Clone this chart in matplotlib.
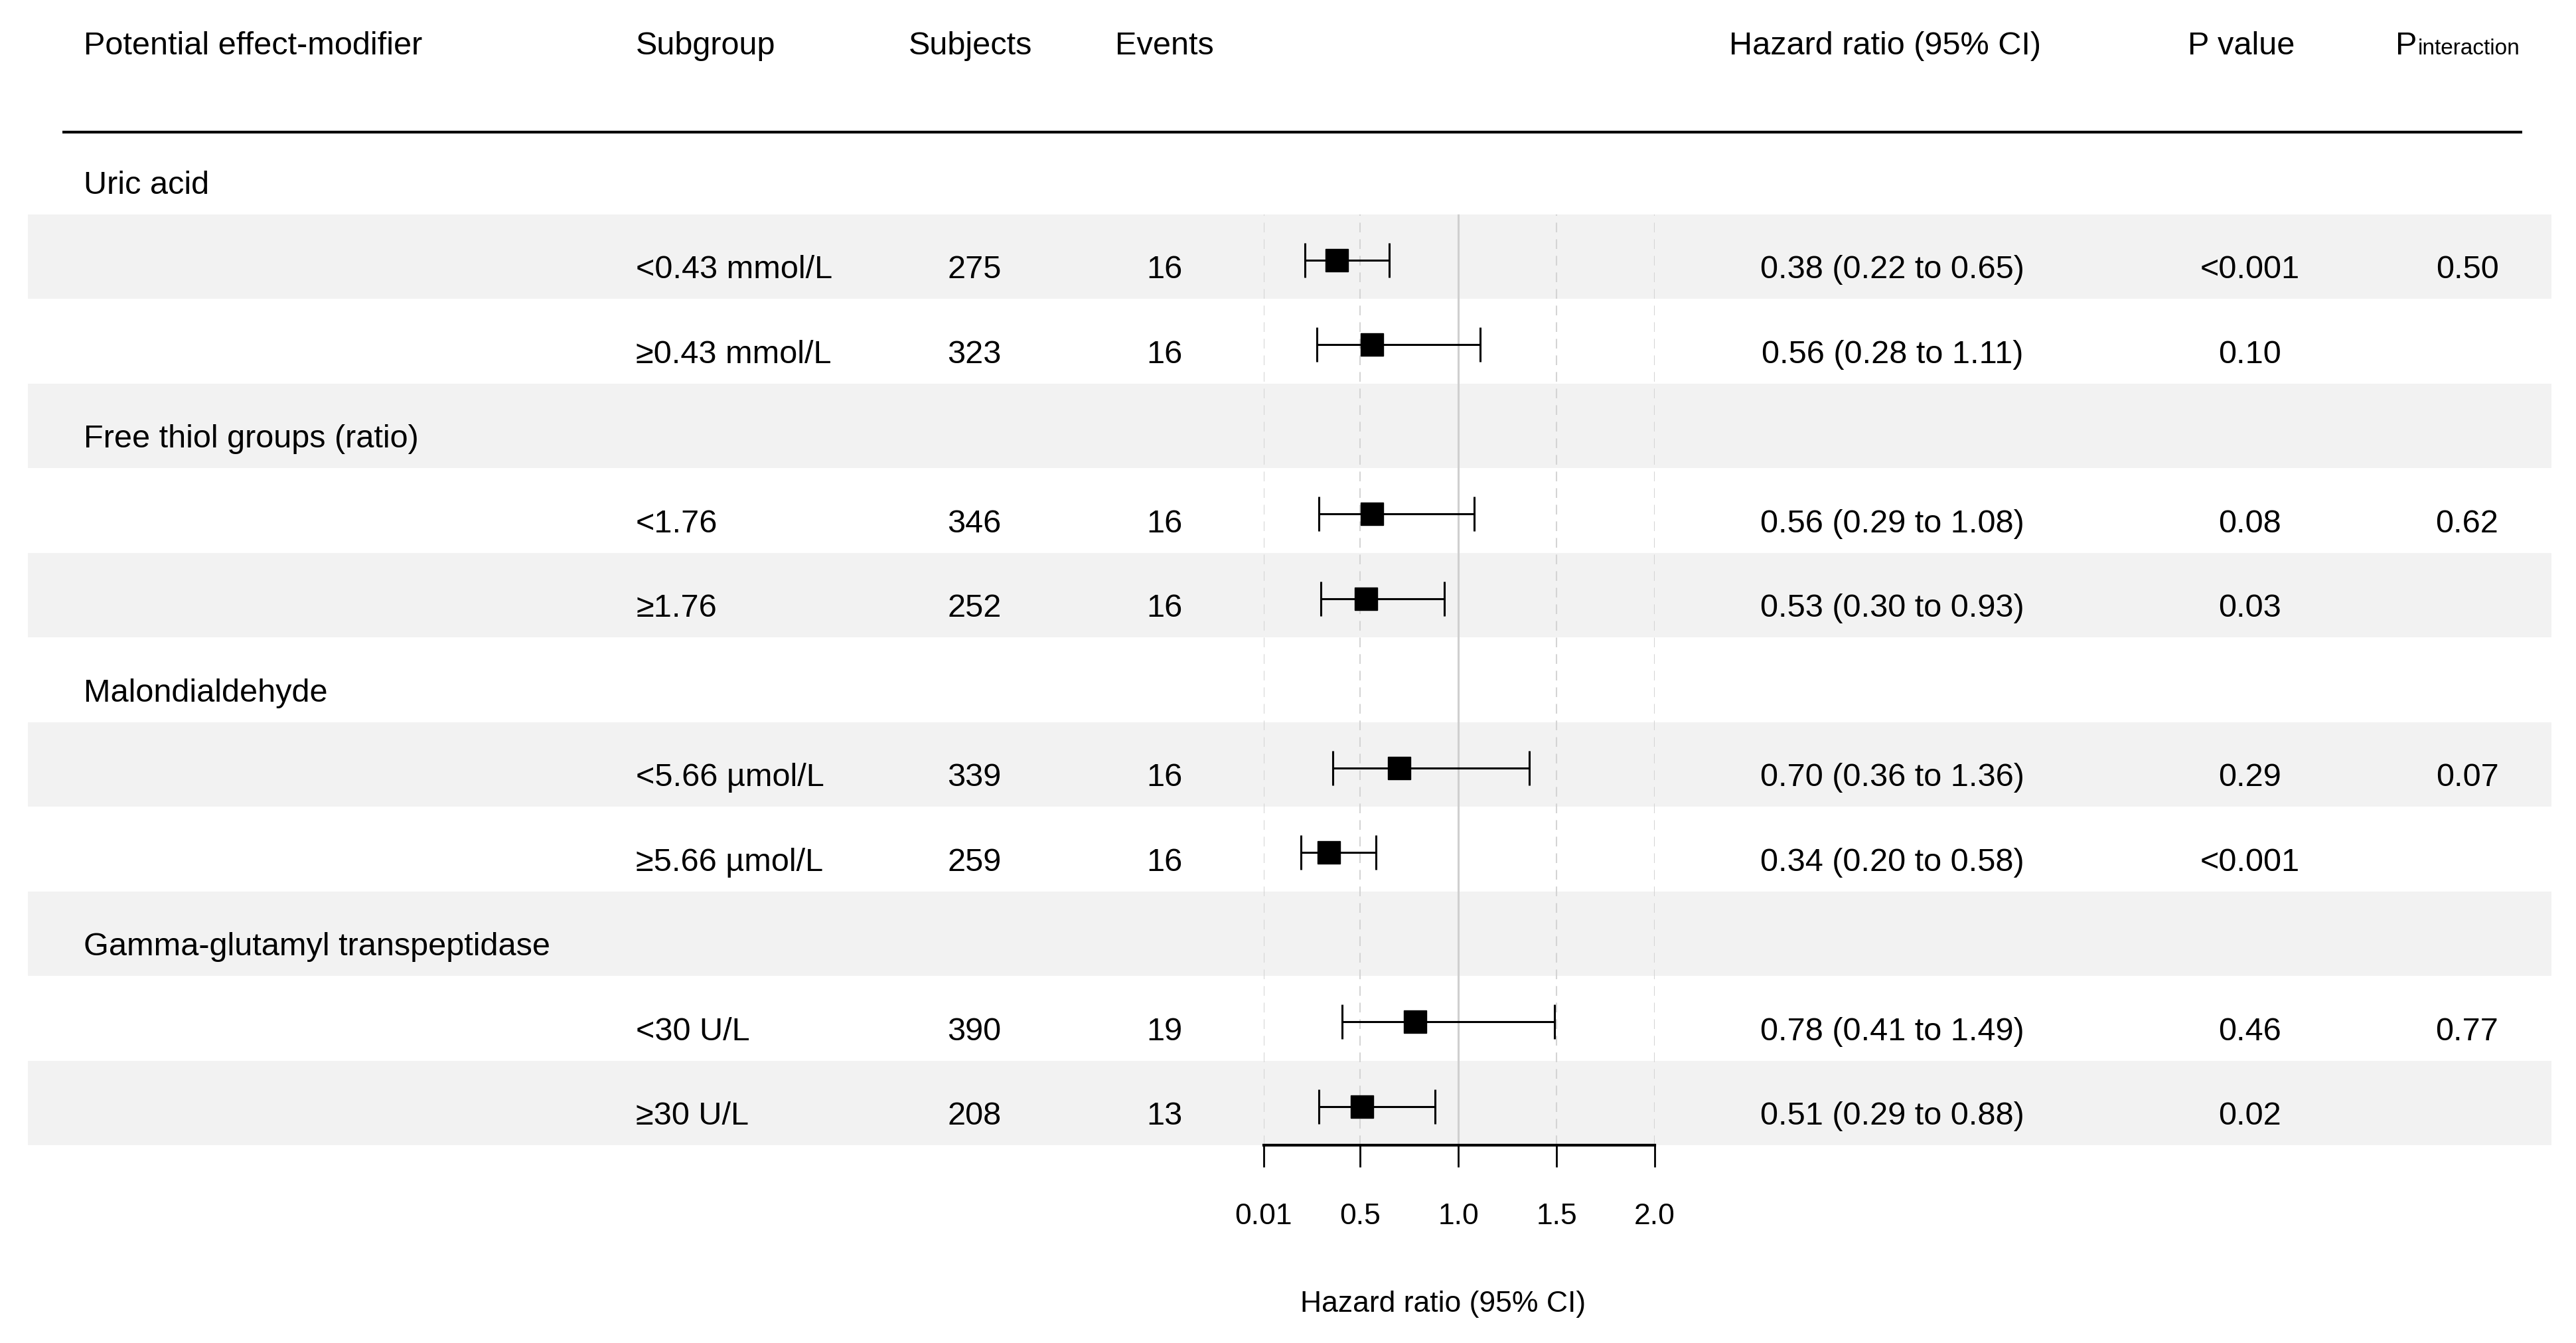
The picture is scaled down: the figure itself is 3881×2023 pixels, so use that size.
"""Forest plot: effect modification of hazard ratio by subgroup."""

import matplotlib
matplotlib.use("Agg")
import matplotlib.pyplot as plt
import numpy as np

# ---- data -------------------------------------------------------------
groups = [
    "Uric acid",
    "Free thiol groups (ratio)",
    "Malondialdehyde",
    "Gamma-glutamyl transpeptidase",
]
subgroups = [
    "<0.43 mmol/L", "≥0.43 mmol/L",
    "<1.76", "≥1.76",
    "<5.66 µmol/L", "≥5.66 µmol/L",
    "<30 U/L", "≥30 U/L",
]
subjects = [275, 323, 346, 252, 339, 259, 390, 208]
events = [16, 16, 16, 16, 16, 16, 19, 13]
hr = [0.38, 0.56, 0.56, 0.53, 0.70, 0.34, 0.78, 0.51]
ci_low = [0.22, 0.28, 0.29, 0.30, 0.36, 0.20, 0.41, 0.29]
ci_high = [0.65, 1.11, 1.08, 0.93, 1.36, 0.58, 1.49, 0.88]
p_value = ["<0.001", "0.10", "0.08", "0.03", "0.29", "<0.001", "0.46", "0.02"]
p_interaction = ["0.50", "0.62", "0.07", "0.77"]

x_ticks = [0.01, 0.5, 1.0, 1.5, 2.0]
x_ticklabels = ["0.01", "0.5", "1.0", "1.5", "2.0"]

# ---- layout (pixels of a 3881 x 2024 canvas) --------------------------
W, H = 3881, 2024
ROW0, ROWH = 260.0, 127.5          # centre of first row, row pitch
FS = 35
plt.rcParams["font.family"] = ["Liberation Sans", "DejaVu Sans"]


def row_of(px):
    return (px - ROW0) / ROWH


n_rows = len(groups) * 3
rows_group = [3 * g for g in range(len(groups))]
rows_sub = [3 * g + k for g in range(len(groups)) for k in (1, 2)]

fig = plt.figure(figsize=(W / 100, H / 100), dpi=100)

bg = fig.add_axes([0, 0, 1, 1], zorder=0)
bg.set_xlim(0, W)
bg.set_ylim(row_of(H), row_of(0))
bg.axis("off")

# shaded bands on alternate rows
band_rows = [r for r in range(n_rows) if r % 2 == 1]
bg.barh(band_rows, width=3844 - 42, left=42, height=1.0, color="#f2f2f2", zorder=0)

# header
head_y = row_of(82)
bg.text(126, head_y, "Potential effect-modifier", fontsize=FS, va="baseline")
bg.text(958, head_y, "Subgroup", fontsize=FS, va="baseline")
bg.text(1462, head_y, "Subjects", fontsize=FS, ha="center", va="baseline")
bg.text(1754, head_y, "Events", fontsize=FS, ha="center", va="baseline")
bg.text(2840, head_y, "Hazard ratio (95% CI)", fontsize=FS, ha="center", va="baseline")
bg.text(3377, head_y, "P value", fontsize=FS, ha="center", va="baseline")
bg.text(3641, head_y, "P", fontsize=FS, ha="right", va="baseline")
bg.text(3643, head_y, "interaction", fontsize=24, ha="left", va="baseline")
bg.hlines(row_of(200), 94, 3800, color="black", lw=3)

# table body
BASE = 0.25
for g, r in enumerate(rows_group):
    bg.text(126, r + BASE, groups[g], fontsize=FS, va="baseline")
    bg.text(3717, r + 1 + BASE, p_interaction[g], fontsize=FS, ha="center", va="baseline")

for i, r in enumerate(rows_sub):
    y = r + BASE
    bg.text(958, y, subgroups[i], fontsize=FS, va="baseline")
    bg.text(1468, y, str(subjects[i]), fontsize=FS, ha="center", va="baseline")
    bg.text(1754, y, str(events[i]), fontsize=FS, ha="center", va="baseline")
    bg.text(2851, y, f"{hr[i]:.2f} ({ci_low[i]:.2f} to {ci_high[i]:.2f})",
            fontsize=FS, ha="center", va="baseline")
    bg.text(3390, y, p_value[i], fontsize=FS, ha="center", va="baseline")

bg.text(2174, row_of(1965), "Hazard ratio (95% CI)", fontsize=32, ha="center", va="center")

# ---- forest panel ------------------------------------------------------
top_px = ROW0 + 0.5 * ROWH
bot_px = ROW0 + (n_rows - 0.5) * ROWH
x0, x1 = 1904, 2493
ax = fig.add_axes([x0 / W, 1 - bot_px / H, (x1 - x0) / W, (bot_px - top_px) / H], zorder=1)
ax.set_facecolor("none")
ax.set_xlim(x_ticks[0], x_ticks[-1])
ax.set_ylim(n_rows - 0.5, 0.5)

for t in x_ticks:
    if t == 1.0:
        ax.axvline(t, color="#cfcfcf", lw=2.2, zorder=1)
    else:
        ax.axvline(t, color="#d4d4d4", lw=1.5, ls=(0, (7, 5)), zorder=1)

hr_a = np.array(hr)
xerr = [hr_a - np.array(ci_low), np.array(ci_high) - hr_a]
ax.errorbar(hr_a, np.array(rows_sub) + 0.04, xerr=xerr, fmt="s", color="black",
            ms=25, elinewidth=2.2, capsize=19, capthick=2.2, zorder=3)

for side in ("top", "left", "right"):
    ax.spines[side].set_visible(False)
ax.spines["bottom"].set_linewidth(3)
ax.set_yticks([])
ax.set_xticks(x_ticks)
ax.set_xticklabels(x_ticklabels)
ax.tick_params(axis="x", direction="out", length=24, width=2, pad=38, labelsize=32)

fig.savefig("out.png", dpi=100)
plt.close(fig)
